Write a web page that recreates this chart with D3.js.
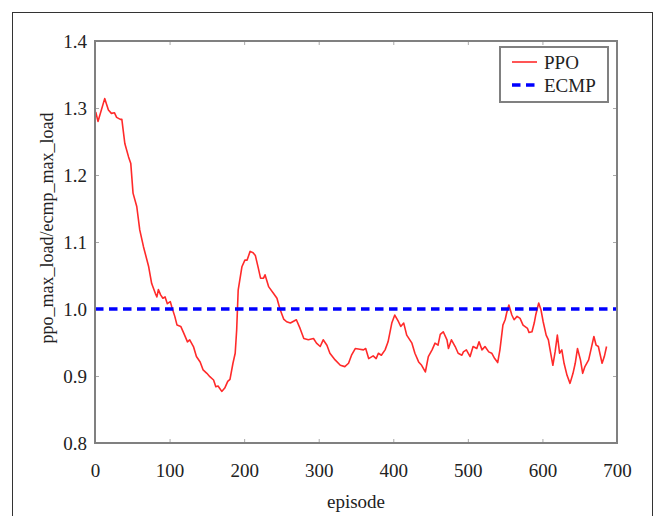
<!DOCTYPE html>
<html>
<head>
	<title>PPO vs ECMP</title>
	<script src="https://d3js.org/d3.v7.min.js"></script>
	<style>
		body{margin:0;background:#fff;}
		svg text{font-family:"Liberation Serif","DejaVu Serif",serif; fill:#222;}
	</style>
</head>
<body>
	<div class="chart"></div>
	<script>
		// values
		const episode = [1,4,13,18,22,26,29,34,36,40,45,48,51,56,60,65,72,76,81,83,85,88,91,94,97,101,103,107,110,115,119,124,127,132,136,141,145,150,154,159,162,165,170,174,178,181,185,188,190,192,197,201,204,208,212,215,219,222,226,228,233,239,244,248,253,257,262,270,275,280,286,293,297,302,306,311,315,322,329,335,340,344,349,355,360,363,367,373,377,380,384,389,393,398,402,407,410,414,418,425,429,434,438,443,447,452,456,460,463,467,472,474,478,483,487,492,494,498,503,507,512,515,519,523,528,532,536,540,543,547,550,552,555,559,562,566,570,574,580,582,586,589,591,595,598,601,605,608,610,614,617,620,623,626,629,633,637,641,644,647,651,654,657,662,665,669,672,675,680,683,686];
		const ppo = [1.294,1.280,1.314,1.297,1.292,1.293,1.286,1.283,1.283,1.247,1.227,1.217,1.173,1.153,1.118,1.093,1.063,1.038,1.023,1.018,1.029,1.021,1.016,1.018,1.008,1.011,1.003,0.989,0.976,0.974,0.964,0.951,0.954,0.944,0.929,0.921,0.909,0.904,0.899,0.894,0.884,0.885,0.877,0.882,0.892,0.895,0.919,0.934,0.969,1.028,1.063,1.073,1.073,1.086,1.084,1.080,1.061,1.046,1.046,1.051,1.033,1.024,1.016,1.000,0.985,0.981,0.979,0.984,0.971,0.956,0.954,0.956,0.949,0.944,0.954,0.946,0.934,0.924,0.916,0.914,0.919,0.931,0.941,0.940,0.939,0.941,0.926,0.930,0.926,0.934,0.931,0.939,0.951,0.979,0.991,0.981,0.974,0.979,0.961,0.949,0.934,0.921,0.916,0.906,0.929,0.939,0.949,0.946,0.962,0.966,0.954,0.941,0.954,0.944,0.934,0.931,0.936,0.939,0.929,0.944,0.941,0.951,0.939,0.944,0.936,0.934,0.926,0.920,0.939,0.976,0.984,0.994,1.006,0.991,0.984,0.989,0.986,0.976,0.971,0.965,0.966,0.979,0.991,1.009,0.999,0.981,0.961,0.954,0.941,0.916,0.936,0.961,0.934,0.939,0.919,0.901,0.889,0.904,0.919,0.941,0.924,0.904,0.914,0.924,0.939,0.959,0.946,0.944,0.919,0.929,0.944];
		const ecmp = 1.0;
		const xTicks = [0,100,200,300,400,500,600,700];
		const yTicks = [0.8,0.9,1.0,1.1,1.2,1.3,1.4];
		const seriesNames = ['PPO','ECMP'];

		const W = 658, H = 516;
		const mLeft = 95, mRight = 617, mTop = 41, mBottom = 443;
		const serif = '"Liberation Serif","DejaVu Serif",serif';

		const svg = d3.select('.chart').append('svg').attr('width',W).attr('height',H)
			.attr('font-family',serif)

		// outer frame of the figure
		svg.append('rect').attr('x',12.5).attr('y',12.5).attr('width',640).attr('height',520)
			.attr('fill','none').attr('stroke','#333').attr('stroke-width',1)

		const x = d3.scaleLinear().domain([0,700]).range([mLeft,mRight])
		const y = d3.scaleLinear().domain([0.8,1.4]).range([mBottom,mTop])

		const axisColor = '#808080'
		const tickLen = 4

		// inward ticks on all four sides
		const g = svg.append('g')
		g.append('g').attr('transform',`translate(0,${mBottom})`)
			.call(d3.axisBottom(x).tickValues(xTicks).tickSize(-tickLen).tickPadding(21).tickFormat(d3.format('d')))
		g.append('g').attr('transform',`translate(0,${mTop})`)
			.call(d3.axisTop(x).tickValues(xTicks).tickSize(-tickLen).tickFormat(''))
		g.append('g').attr('transform',`translate(${mLeft},0)`)
			.call(d3.axisLeft(y).tickValues(yTicks).tickSize(-tickLen).tickPadding(8).tickFormat(d3.format('.1f')))
		g.append('g').attr('transform',`translate(${mRight},0)`)
			.call(d3.axisRight(y).tickValues(yTicks).tickSize(-tickLen).tickFormat(''))
		g.selectAll('.domain').remove()
		g.selectAll('g').attr('font-family',serif)
		g.selectAll('.tick line').attr('stroke','#aaa').attr('stroke-width',1)
		g.selectAll('.tick text').style('font-size','19px').style('font-family',serif).attr('fill','#222')

		// data lines
		const pts = episode.map((e,i)=>[e,ppo[i]])
		svg.append('path').datum(pts)
			.attr('fill','none').attr('stroke','#ff2a2a').attr('stroke-width',1.6)
			.attr('stroke-linejoin','round')
			.attr('d',d3.line().x(d=>x(d[0])).y(d=>y(d[1])))

		svg.append('line').attr('x1',x(0)).attr('x2',x(700)).attr('y1',y(ecmp)).attr('y2',y(ecmp))
			.attr('stroke','#0000ff').attr('stroke-width',3.5).attr('stroke-dasharray','8.5,5.5')

		// plot box
		svg.append('rect').attr('x',mLeft).attr('y',mTop).attr('width',mRight-mLeft).attr('height',mBottom-mTop)
			.attr('fill','none').attr('stroke',axisColor).attr('stroke-width',2)

		// axis titles
		svg.append('text').attr('x',(mLeft+mRight)/2).attr('y',508).attr('text-anchor','middle')
			.style('font-size','19px').style('font-family',serif).text('episode')
		svg.append('text').attr('transform',`translate(53,228) rotate(-90)`).attr('text-anchor','middle')
			.style('font-size','18px').style('font-family',serif).text('ppo_max_load/ecmp_max_load')

		// legend
		const lg = svg.append('g')
		lg.append('rect').attr('x',500).attr('y',47).attr('width',108).attr('height',55)
			.attr('fill','#fff').attr('stroke',axisColor).attr('stroke-width',2)
		lg.append('line').attr('x1',512).attr('x2',537).attr('y1',62).attr('y2',62)
			.attr('stroke','#ff2a2a').attr('stroke-width',1.6)
		lg.append('line').attr('x1',512).attr('x2',537).attr('y1',85).attr('y2',85)
			.attr('stroke','#0000ff').attr('stroke-width',3.5).attr('stroke-dasharray','8.5,5.5')
		lg.selectAll('text.leg').data(seriesNames).join('text').attr('class','leg')
			.attr('x',544).attr('y',(d,i)=>69+i*23).style('font-size','19px').style('font-family',serif).text(d=>d)
	</script>
</body>
</html>
